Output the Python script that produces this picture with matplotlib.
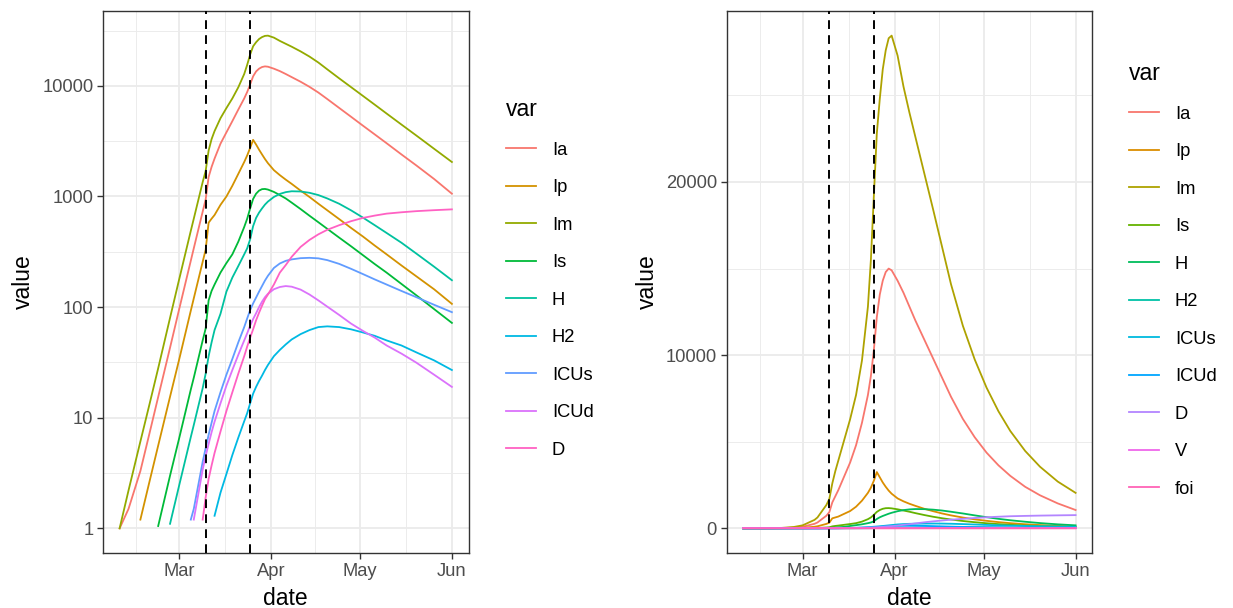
import numpy as np
import matplotlib
matplotlib.use("Agg")
import matplotlib.pyplot as plt
import matplotlib.dates as mdates
from matplotlib.lines import Line2D
from matplotlib.ticker import FixedLocator, NullFormatter

plt.rcParams['font.family'] = ['Liberation Sans', 'DejaVu Sans']

# model output, days counted from the first date
start = np.datetime64('2020-02-10')
day = [0, 3, 7, 10, 13, 17, 20, 24, 25, 28,
       29, 30, 31, 32, 34, 36, 38, 40, 42, 43,
       44, 45, 46, 47, 48, 49, 50, 52, 54, 56,
       58, 61, 64, 67, 70, 74, 78, 82, 86, 90,
       95, 100, 106, 112]

Ia = [1.0, 1.5, 3.3, 7.1, 15.4, 43, 94, 263, 340, 730,
      940, 1500, 1850, 2200, 3000, 3800, 4800, 6100, 7700, 8800,
      10300, 12200, 13500, 14300, 14800, 15000, 14900, 14300, 13600, 12800,
      12000, 10900, 9800, 8700, 7600, 6320, 5260, 4370, 3640, 3030,
      2400, 1910, 1440, 1060]
Ip = [0.2, 0.45, 1.2, 2.6, 5.6, 15.5, 33, 93, 120, 257,
      330, 580, 630, 680, 840, 1000, 1250, 1600, 2050, 2350,
      2750, 3250, 2950, 2650, 2400, 2180, 2000, 1730, 1560, 1420,
      1300, 1130, 990, 860, 750, 625, 520, 435, 360, 300,
      238, 190, 145, 107]
Im = [1.0, 2.2, 6.1, 13, 28, 80, 175, 490, 630, 1350,
      1700, 2600, 3300, 3900, 5100, 6300, 7700, 9700, 12800, 15500,
      19200, 22800, 24800, 26500, 27600, 28300, 28450, 27300, 25500, 24000,
      22600, 20500, 18400, 16250, 14100, 11700, 9750, 8120, 6760, 5620,
      4470, 3560, 2700, 2050]
Is = [0.02, 0.08, 0.24, 0.5, 1.05, 3.0, 6.4, 18, 23, 50,
      64, 115, 140, 160, 205, 250, 300, 390, 530, 630,
      780, 950, 1060, 1130, 1165, 1170, 1155, 1100, 1030, 960,
      880, 770, 670, 585, 510, 425, 355, 295, 245, 205,
      162, 128, 96, 72]
H = [0, 0.01, 0.07, 0.2, 0.4, 1.1, 2.4, 6.7, 8.6, 18.5,
     25, 36, 48, 62, 87, 138, 185, 235, 300, 340,
     410, 540, 640, 715, 780, 845, 900, 990, 1055, 1095,
     1115, 1110, 1080, 1030, 960, 860, 750, 645, 550, 468,
     382, 305, 232, 175]
H2 = [0, 0, 0, 0, 0, 0, 0.02, 0.15, 0.2, 0.5,
      0.6, 0.8, 0.95, 1.3, 2.1, 3.1, 4.6, 6.6, 9.3, 11,
      13.5, 16.5, 19, 21.5, 24, 27, 30, 36, 41, 46,
      51, 57, 62, 66, 67, 66, 63, 59, 55, 50,
      45, 39, 33, 27]
ICUs = [0, 0, 0.01, 0.03, 0.07, 0.2, 0.35, 1.2, 1.5, 4.0,
        5.3, 7.0, 9.0, 11.5, 17, 24.5, 34, 48, 66, 79,
        94, 108, 122, 138, 155, 174, 192, 226, 248, 262,
        270, 277, 279, 276, 266, 246, 222, 199, 178, 160,
        140, 123, 105, 90]
ICUd = [0, 0, 0, 0.02, 0.05, 0.15, 0.3, 0.9, 1.2, 3.4,
        4.5, 5.8, 7.4, 9.2, 13.5, 19.5, 27, 37, 50, 58,
        68, 78, 88, 100, 112, 123, 132, 145, 152, 155,
        153, 144, 130, 115, 101, 85, 71, 61, 53, 45,
        38, 31.5, 24.5, 19]
D = [0, 0, 0, 0, 0.01, 0.05, 0.1, 0.3, 0.45, 1.2,
     1.9, 2.8, 3.7, 4.8, 7.5, 11.5, 17, 25, 36, 44,
     53, 63, 76, 89, 103, 118, 130, 160, 205, 240,
     285, 350, 405, 455, 500, 550, 598, 640, 672, 700,
     720, 737, 752, 765]
V = [0] * len(day)
foi = [0.0, 0.01, 0.02, 0.04, 0.07, 0.12, 0.18, 0.3, 0.33, 0.42,
       0.45, 0.3, 0.28, 0.25, 0.22, 0.2, 0.18, 0.16, 0.14, 0.13,
       0.12, 0.09, 0.08, 0.08, 0.07, 0.07, 0.06, 0.05, 0.05, 0.04,
       0.04, 0.03, 0.03, 0.03, 0.02, 0.02, 0.02, 0.01, 0.01, 0.01,
       0.01, 0.0, 0.0, 0.0]

interventions = ['2020-03-10', '2020-03-25']

log_vars = ['Ia', 'Ip', 'Im', 'Is', 'H', 'H2', 'ICUs', 'ICUd', 'D']
lin_vars = ['Ia', 'Ip', 'Im', 'Is', 'H', 'H2', 'ICUs', 'ICUd', 'D', 'V', 'foi']
series = {'Ia': Ia, 'Ip': Ip, 'Im': Im, 'Is': Is, 'H': H, 'H2': H2,
          'ICUs': ICUs, 'ICUd': ICUd, 'D': D, 'V': V, 'foi': foi}

# ggplot hue palettes for 9 and 11 levels
pal9 = ['#F8766D', '#D39200', '#93AA00', '#00BA38', '#00C19F',
        '#00B9E3', '#619CFF', '#DB72FB', '#FF61C3']
pal11 = ['#F8766D', '#DB8E00', '#AEA200', '#64B200', '#00BD5C', '#00C1A7',
         '#00BADE', '#00A6FF', '#B385FF', '#EF67EB', '#FF63B6']

dates = start + np.array(day).astype('timedelta64[D]')

W, Hpx = 1233, 608
fig = plt.figure(figsize=(W / 100, Hpx / 100), dpi=100)
ax1 = fig.add_axes([103 / W, 1 - 553 / Hpx, 365.5 / W, 542 / Hpx])
ax2 = fig.add_axes([726.7 / W, 1 - 553 / Hpx, 365.5 / W, 542 / Hpx])

LW = 1.3
TXT = 13.2
TITLE = 16.5


def style_axes(ax):
    ax.set_facecolor('white')
    for s in ax.spines.values():
        s.set_color('#333333')
        s.set_linewidth(1.0)
    ax.xaxis.set_major_locator(mdates.MonthLocator())
    ax.xaxis.set_major_formatter(mdates.DateFormatter('%b'))
    majors = mdates.date2num(np.array(['2020-02-01', '2020-03-01', '2020-04-01',
                                       '2020-05-01', '2020-06-01'], dtype='datetime64[D]'))
    ax.xaxis.set_minor_locator(FixedLocator((majors[:-1] + majors[1:]) / 2))
    ax.grid(True, which='major', color='#EBEBEB', lw=1.3)
    ax.grid(True, which='minor', color='#EBEBEB', lw=0.65)
    ax.set_axisbelow(True)
    ax.tick_params(which='major', length=4, width=1.0, color='#333333',
                   labelsize=TXT, labelcolor='#4D4D4D', pad=3)
    ax.tick_params(which='minor', length=0)
    ax.set_xlabel('date', fontsize=TITLE, labelpad=5.5)
    ax.set_ylabel('value', fontsize=TITLE, labelpad=5)
    ax.margins(x=0.05, y=0.05)
    for d in interventions:
        ax.axvline(np.datetime64(d), color='black', lw=1.4, ls=(0, (4.5, 3.2)), zorder=5)


# left: log scale, values below one left out
for name, col in zip(log_vars, pal9):
    v = np.array(series[name], dtype=float)
    ax1.plot(dates, np.where(v >= 1, v, np.nan), color=col, lw=LW, zorder=3)
ax1.set_yscale('log')
ax1.yaxis.set_major_locator(FixedLocator([1, 10, 100, 1000, 10000]))
ax1.yaxis.set_major_formatter(plt.FuncFormatter(lambda y, _: f'{y:.0f}'))
ax1.yaxis.set_minor_locator(FixedLocator([10 ** (k + 0.5) for k in range(-1, 5)]))
ax1.yaxis.set_minor_formatter(NullFormatter())
style_axes(ax1)

# right: linear scale, all compartments
for name, col in zip(lin_vars, pal11):
    ax2.plot(dates, series[name], color=col, lw=LW, zorder=3)
ax2.yaxis.set_major_locator(FixedLocator([0, 10000, 20000]))
ax2.yaxis.set_major_formatter(plt.FuncFormatter(lambda y, _: f'{y:.0f}'))
ax2.yaxis.set_minor_locator(FixedLocator([-5000, 5000, 15000, 25000]))
style_axes(ax2)


def add_legend(ax, names, cols, x, y):
    handles = [Line2D([], [], color=c, lw=LW) for c in cols]
    leg = ax.legend(handles, names, title='var', loc='upper left',
                    bbox_to_anchor=(x / W, 1 - y / Hpx), bbox_transform=fig.transFigure,
                    frameon=False, fontsize=TXT, title_fontsize=TITLE,
                    handlelength=1.65, handletextpad=0.85, labelspacing=1.12,
                    borderpad=0, borderaxespad=0, alignment='left')
    return leg


add_legend(ax1, log_vars, pal9, 506, 98)
add_legend(ax2, lin_vars, pal11, 1129, 62)

fig.savefig('out.png', dpi=100, facecolor='white')
